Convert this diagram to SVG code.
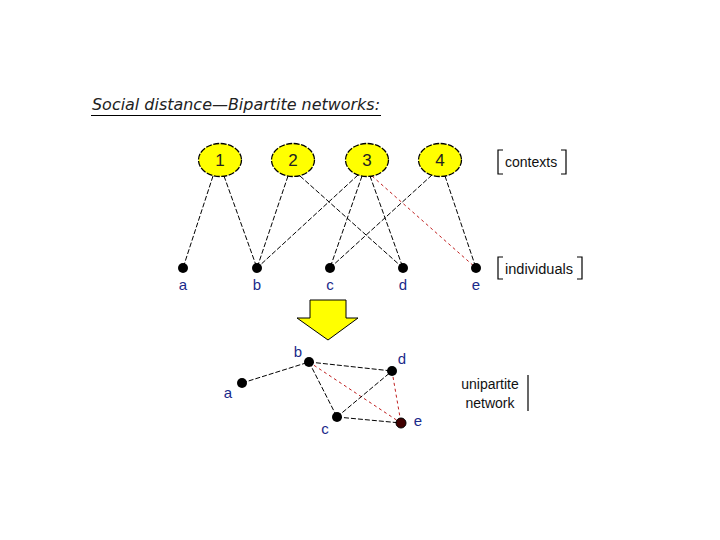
<svg xmlns="http://www.w3.org/2000/svg" width="720" height="540" viewBox="0 0 720 540">
<style>
.ctx{fill:#ffff00;stroke:#000;stroke-width:1.3;stroke-dasharray:6,1.5}
.num{font-family:"Liberation Sans",Arial,sans-serif;font-size:17px;fill:#222;text-anchor:middle}
.lbl{font-family:"Liberation Sans",Arial,sans-serif;font-size:15px;fill:#1a2a8a;text-anchor:middle}
.txt{font-family:"Liberation Sans",Arial,sans-serif;font-size:14px;fill:#111}
.e{stroke:#000;stroke-width:1;stroke-dasharray:5,2;fill:none}
.r{stroke:#c02020;stroke-width:1;stroke-dasharray:3,3;fill:none}
.br{stroke:#000;stroke-width:1.2;fill:none}
.dot{fill:#000}
</style>
<rect width="720" height="540" fill="#fff"/>
<g id="title">
<text x="92" y="110" font-family="DejaVu Sans,Verdana,sans-serif" font-size="16" font-style="italic" fill="#222" textLength="288" lengthAdjust="spacingAndGlyphs">Social distance—Bipartite networks:</text>
<line x1="91" y1="115.5" x2="381" y2="115.5" stroke="#000" stroke-width="1.2"/>
</g>
<g id="connectors">
<line class="e" x1="213" y1="176" x2="183" y2="268"/>
<line class="e" x1="224" y1="176" x2="257" y2="268"/>
<line class="e" x1="288" y1="176" x2="257" y2="268"/>
<line class="e" x1="300" y1="176" x2="403" y2="268"/>
<line class="e" x1="358" y1="175" x2="257" y2="268"/>
<line class="e" x1="362" y1="176" x2="330" y2="268"/>
<line class="e" x1="370" y1="176" x2="403" y2="268"/>
<line class="r" x1="372" y1="176" x2="476" y2="268"/>
<line class="e" x1="432" y1="175" x2="330" y2="268"/>
<line class="e" x1="445" y1="176" x2="476" y2="268"/>
<line class="e" x1="242" y1="383" x2="309" y2="362"/>
<line class="e" x1="309" y1="362" x2="392" y2="371"/>
<line class="e" x1="309" y1="362" x2="337" y2="417"/>
<line class="r" x1="309" y1="362" x2="401" y2="423"/>
<line class="e" x1="337" y1="417" x2="392" y2="371"/>
<line class="e" x1="337" y1="417" x2="401" y2="423"/>
<line class="r" x1="392" y1="371" x2="401" y2="423"/>
</g>
<g id="ctx1"><ellipse class="ctx" cx="220" cy="160" rx="21.5" ry="16.5"/><text class="num" x="220" y="166">1</text></g>
<g id="ctx2"><ellipse class="ctx" cx="293" cy="160" rx="21.5" ry="16.5"/><text class="num" x="293" y="166">2</text></g>
<g id="ctx3"><ellipse class="ctx" cx="367" cy="160" rx="21.5" ry="16.5"/><text class="num" x="367" y="166">3</text></g>
<g id="ctx4"><ellipse class="ctx" cx="440" cy="160" rx="21.5" ry="16.5"/><text class="num" x="440" y="166">4</text></g>
<g id="contexts-label">
<path class="br" d="M503,150 H498 V174 H503"/>
<path class="br" d="M561,150 H566 V174 H561"/>
<text class="txt" x="505" y="167">contexts</text>
</g>
<g id="na"><circle class="dot" cx="183" cy="268" r="5"/><text class="lbl" x="183" y="290">a</text></g>
<g id="nb"><circle class="dot" cx="257" cy="268" r="5"/><text class="lbl" x="257" y="290">b</text></g>
<g id="nc"><circle class="dot" cx="330" cy="268" r="5"/><text class="lbl" x="330" y="290">c</text></g>
<g id="nd"><circle class="dot" cx="403" cy="268" r="5"/><text class="lbl" x="403" y="290">d</text></g>
<g id="ne"><circle class="dot" cx="476" cy="268" r="5"/><text class="lbl" x="476" y="290">e</text></g>
<g id="individuals-label">
<path class="br" d="M503,257 H498 V279 H503"/>
<path class="br" d="M577,257 H582 V279 H577"/>
<text class="txt" x="505" y="274" textLength="68" lengthAdjust="spacingAndGlyphs">individuals</text>
</g>
<g id="arrow">
<polygon points="310,300 346,300 346,318 358,318 328,340 297,318 310,318" fill="#ffff00" stroke="#000" stroke-width="1"/>
</g>
<g id="ua"><circle class="dot" cx="242" cy="383" r="5"/><text class="lbl" x="228" y="398">a</text></g>
<g id="ub"><circle class="dot" cx="309" cy="362" r="5"/><text class="lbl" x="298" y="357">b</text></g>
<g id="ud"><circle class="dot" cx="392" cy="371" r="5"/><text class="lbl" x="402" y="364">d</text></g>
<g id="uc"><circle class="dot" cx="337" cy="417" r="5"/><text class="lbl" x="325" y="434">c</text></g>
<g id="ue"><circle cx="401" cy="423" r="5" fill="#400000" stroke="#000" stroke-width="1"/><text class="lbl" x="418" y="426">e</text></g>
<g id="unipartite-label">
<text class="txt" x="490" y="389" text-anchor="middle">unipartite</text>
<text class="txt" x="490" y="408" text-anchor="middle">network</text>
<line class="br" x1="528" y1="375" x2="528" y2="411"/>
</g>
</svg>
